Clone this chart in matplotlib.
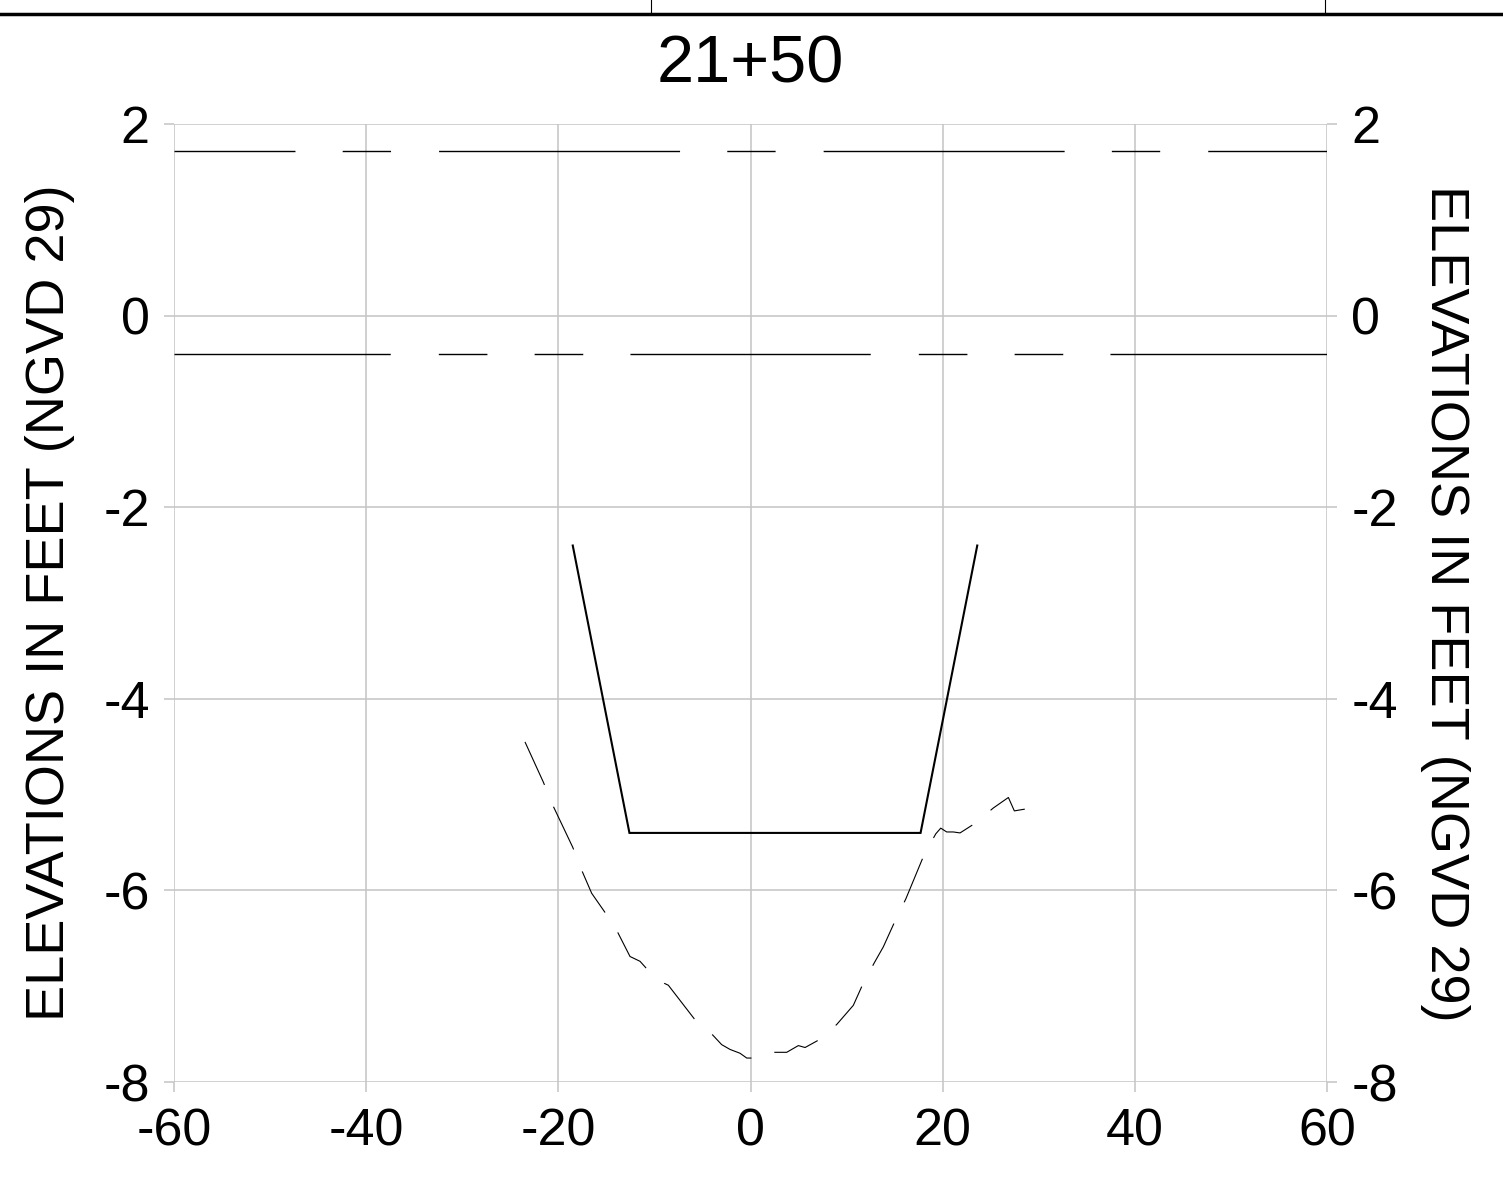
import matplotlib
matplotlib.use("Agg")
import matplotlib.pyplot as plt
from matplotlib.lines import Line2D
from matplotlib import font_manager

# --- data ---
station = "21+50"
x_ticks = [-60, -40, -20, 0, 20, 40, 60]
y_ticks = [-8, -6, -4, -2, 0, 2]

wl_upper = 1.72     # upper water level
wl_lower = -0.4     # lower water level

# design channel template
chan_x = [-18.5, -12.6, 17.7, 23.6]
chan_y = [-2.4, -5.4, -5.4, -2.4]

# existing bottom (surveyed profile)
prof_x = [-23.47, -21.56, -20.63, -18.50, -17.61, -16.53, -15.21, -13.86,
          -12.54, -11.50, -10.87, -8.97, -8.55, -5.78, -3.93, -3.00, -2.13,
          -1.09, -0.39, 0.19, 2.37, 3.77, 4.98, 5.68, 7.13, 8.97, 10.70,
          11.64, 12.86, 13.82, 15.04, 16.16, 18.06, 19.28, 19.80, 20.42,
          21.11, 21.81, 23.37, 25.27, 26.84, 27.46, 28.65]
prof_y = [-4.45, -4.87, -5.10, -5.55, -5.78, -6.03, -6.22, -6.43,
          -6.69, -6.74, -6.81, -6.97, -6.99, -7.35, -7.51, -7.61, -7.66,
          -7.70, -7.75, -7.75, -7.69, -7.69, -7.62, -7.64, -7.56, -7.40,
          -7.20, -6.99, -6.76, -6.59, -6.32, -6.09, -5.63, -5.41, -5.35,
          -5.39, -5.39, -5.40, -5.30, -5.14, -5.03, -5.17, -5.15]

ylabel = "ELEVATIONS IN FEET (NGVD 29)"

# --- fonts ---
avail = {f.name for f in font_manager.fontManager.ttflist}
base_font = "Liberation Sans" if "Liberation Sans" in avail else "DejaVu Sans"
plt.rcParams["font.family"] = [base_font, "DejaVu Sans"]

GRID = "#c4c4c4"
FS = 37.5
FS_LAB = 39

fig = plt.figure(figsize=(15.03, 11.85), dpi=100)
ax = fig.add_axes([174 / 1503, 103 / 1185, 1153 / 1503, 958 / 1185])

ax.set_xlim(-60, 60)
ax.set_ylim(-8, 2)
ax.set_xticks(x_ticks)
ax.set_yticks(y_ticks)
ax.set_xticklabels([str(v) for v in x_ticks])
ax.set_yticklabels([str(v) for v in y_ticks])
for s in ax.spines.values():
    s.set_visible(False)
ax.grid(True, color=GRID, lw=1.1)
ax.tick_params(axis="both", colors=GRID, labelcolor="black", labelsize=FS,
               length=7.5, width=1.1, direction="out")
ax.tick_params(axis="x", pad=11)
ax.tick_params(axis="y", pad=10, right=True)
ax.set_axisbelow(True)

# water levels, long-short dash patterns
ax.plot([-60, 60], [wl_upper, wl_upper], color="black", lw=1.0,
        linestyle=(86.4, (173.5, 34.0, 34.8, 34.6)))
ax.plot([-60, 60], [wl_lower, wl_lower], color="black", lw=1.0,
        linestyle=(17.3, (173.0, 34.6, 35.0, 34.0, 35.0, 34.0)))

# channel template
ax.plot(chan_x, chan_y, color="black", lw=1.5, solid_joinstyle="miter")

# existing bottom
lw_p = 0.8
ax.plot(prof_x, prof_y, color="black", lw=lw_p,
        linestyle=(0, (34.0 / lw_p, 17.0 / lw_p)))

ax.set_ylabel(ylabel, fontsize=FS_LAB, labelpad=20)
ax.set_title(station, fontsize=48, pad=30)

# right axis
ax2 = ax.twinx()
ax2.set_ylim(-8, 2)
ax2.set_yticks(y_ticks)
ax2.set_yticklabels([str(v) for v in y_ticks])
for s in ax2.spines.values():
    s.set_visible(False)
ax2.tick_params(axis="y", colors=GRID, labelcolor="black", labelsize=FS,
                length=7.5, width=1.1, pad=10)
ax2.set_ylabel(ylabel, fontsize=FS_LAB, rotation=-90, labelpad=52)

# sheet border at the top
fig.add_artist(Line2D([0, 1], [1 - 14 / 1185, 1 - 14 / 1185], color="black", lw=2.5))
for xp in (651, 1325):
    fig.add_artist(Line2D([xp / 1503, xp / 1503], [1 - 14 / 1185, 1], color="black", lw=0.8))

fig.savefig("out.png", dpi=100)
